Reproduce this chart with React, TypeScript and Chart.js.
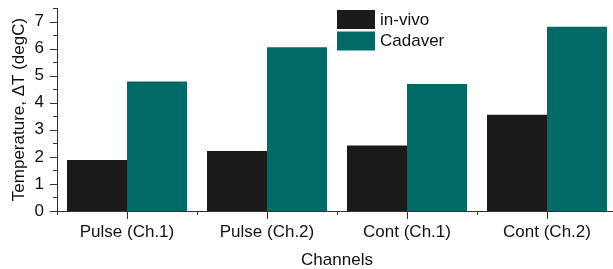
import React, { useEffect, useRef } from "react";
import { Chart, registerables } from "chart.js";

Chart.register(...registerables);

const categories = ["Pulse (Ch.1)", "Pulse (Ch.2)", "Cont (Ch.1)", "Cont (Ch.2)"];
const seriesNames = ["in-vivo", "Cadaver"];
const inVivo = [1.88, 2.22, 2.42, 3.56];
const cadaver = [4.78, 6.05, 4.69, 6.81];
const yMin = 0;
const yMax = 7.5;
const yMajorStep = 1;
const yMinorStep = 0.5;
const xTitle = "Channels";
const yTitle = "Temperature, \u0394T (degC)";

const colors = ["#1a1a1a", "#006a66"];
const FONT = "'Liberation Sans', Arial, sans-serif";
const AXIS = "#333333";

const tickPlugin = {
  id: "customTicks",
  afterDraw(chart: any) {
    const ctx = chart.ctx;
    const { left, bottom } = chart.chartArea;
    const y = chart.scales.y;
    const x = chart.scales.x;
    ctx.save();
    ctx.strokeStyle = AXIS;
    ctx.lineWidth = 1;
    for (let v = yMin; v <= yMax + 1e-9; v += yMinorStep) {
      const major = Math.abs(v - Math.round(v)) < 1e-9;
      const py = Math.round(y.getPixelForValue(v)) + 0.5;
      const len = major ? 7 : 4;
      ctx.beginPath();
      ctx.moveTo(left - len, py);
      ctx.lineTo(left, py);
      ctx.stroke();
    }
    const n = categories.length;
    const step = x.getPixelForValue(1) - x.getPixelForValue(0);
    for (let i = 0; i < n; i++) {
      const px = Math.round(x.getPixelForValue(i)) + 0.5;
      ctx.beginPath();
      ctx.moveTo(px, bottom);
      ctx.lineTo(px, bottom + 8);
      ctx.stroke();
    }
    for (let i = 0; i <= n; i++) {
      const px = Math.round(x.getPixelForValue(0) - step / 2 + i * step) + 0.5;
      ctx.beginPath();
      ctx.moveTo(px, bottom);
      ctx.lineTo(px, bottom + 4);
      ctx.stroke();
    }
    ctx.restore();
  },
};

const legendPlugin = {
  id: "floatLegend",
  afterDraw(chart: any) {
    const ctx = chart.ctx;
    const { left, right, top } = chart.chartArea;
    const lx = left + (right - left) * 0.5;
    const ly = top + 2;
    ctx.save();
    ctx.font = `17px ${FONT}`;
    ctx.textBaseline = "middle";
    ctx.textAlign = "left";
    chart.data.datasets.forEach((ds: any, i: number) => {
      const by = ly + i * 21.5;
      ctx.fillStyle = ds.backgroundColor;
      ctx.fillRect(lx, by, 38, 19);
      ctx.fillStyle = "#111111";
      ctx.fillText(ds.label, lx + 43, by + 10);
    });
    ctx.restore();
  },
};

export default function App() {
  const ref = useRef<HTMLCanvasElement>(null);
  useEffect(() => {
    if (!ref.current) return;
    const chart = new Chart(ref.current, {
      type: "bar",
      data: {
        labels: categories,
        datasets: [
          { label: seriesNames[0], data: inVivo, backgroundColor: colors[0], borderWidth: 0 },
          { label: seriesNames[1], data: cadaver, backgroundColor: colors[1], borderWidth: 0 },
        ],
      },
      options: {
        responsive: false,
        animation: false,
        devicePixelRatio: 1,
        layout: { padding: { left: 0, right: 8, top: 8, bottom: 0 } },
        plugins: { legend: { display: false }, tooltip: { enabled: false } },
        datasets: { bar: { categoryPercentage: 0.857, barPercentage: 1 } },
        scales: {
          x: {
            type: "category",
            offset: true,
            grid: { display: false },
            border: { display: true, color: AXIS, width: 1 },
            ticks: { color: "#111111", font: { family: FONT, size: 17 }, padding: 3, maxRotation: 0 },
            title: { display: true, text: xTitle, color: "#111111", font: { family: FONT, size: 17 }, padding: { top: 0, bottom: 0 } },
            afterFit: (s: any) => { s.height = 60; s.paddingLeft = 0; s.paddingRight = 0; },
          },
          y: {
            min: yMin,
            max: yMax,
            grid: { display: false },
            border: { display: true, color: AXIS, width: 1 },
            ticks: {
              stepSize: yMajorStep,
              includeBounds: false,
              color: "#111111",
              font: { family: FONT, size: 17 },
              padding: 5,
              callback: (v: any) => (Number.isInteger(v) ? String(v) : ""),
            },
            title: { display: true, text: yTitle, color: "#111111", font: { family: FONT, size: 17 }, padding: { top: 9, bottom: 0 } },
            afterFit: (s: any) => { s.width = 57; s.paddingTop = 0; s.paddingBottom = 0; },
          },
        },
      },
      plugins: [tickPlugin, legendPlugin],
    });
    return () => chart.destroy();
  }, []);
  return (
    <div style={{ position: "fixed", left: 0, top: 0, width: 613, height: 269, overflow: "hidden", background: "#fff" }}>
      <canvas ref={ref} width={625} height={271} style={{ display: "block", width: 625, height: 271 }} />
    </div>
  );
}
